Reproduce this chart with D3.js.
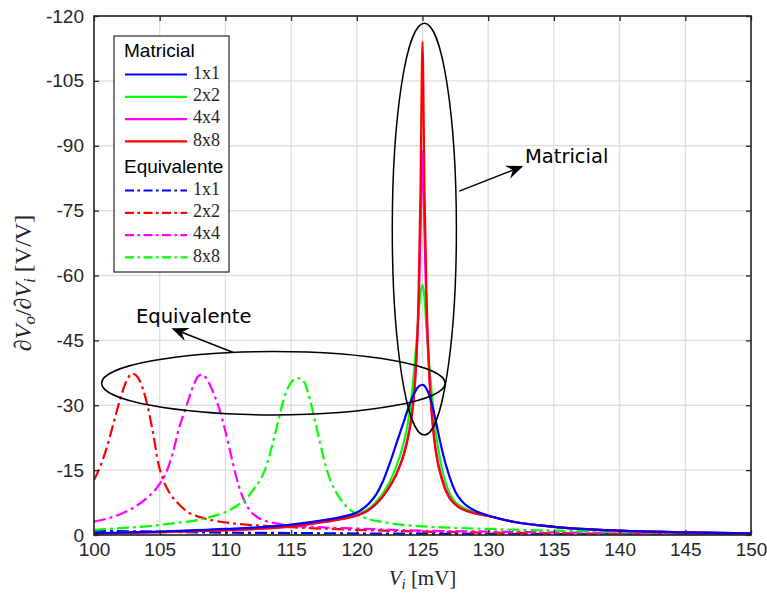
<!DOCTYPE html>
<html>
<head>
<meta charset="utf-8">
<script src="https://cdn.jsdelivr.net/npm/d3@7"></script>
<style>
  body { margin: 0; background: #fff; }
  svg { display: block; }
</style>
</head>
<body>
<svg id="chart" width="767" height="595"></svg>
<script>
// x grid shared by the "Matricial" curves
var xMat = [100, 105, 110, 115, 117, 119, 120, 121, 121.5, 122, 122.5, 123, 123.5, 124, 124.3, 124.5, 124.7, 124.85,
            125, 125.15, 125.3, 125.5, 125.7, 126, 126.5, 127, 127.5, 128, 129, 130, 132, 135, 140, 145, 150];
var mat1x1 = [-0.4, -0.8, -1.4, -2.4, -3.2, -4.3, -5.2, -7.5, -9.5, -12.5, -16.5, -21, -25.5, -30, -32.3, -33.5, -34.3, -34.6,
              -34.7, -34.5, -33.8, -32.5, -30.5, -26.5, -19.5, -14, -10, -7.8, -5.6, -4.5, -3.0, -1.9, -1.0, -0.6, -0.35];
var mat2x2 = [-0.4, -0.7, -1.2, -2.1, -2.9, -4.0, -4.8, -6.3, -7.8, -9.7, -12.3, -15.8, -20.5, -28, -36, -43, -51, -56,
              -57.8, -55, -48, -40, -33, -24, -15, -10, -7.6, -6.5, -5.2, -4.4, -3.0, -1.9, -1.0, -0.6, -0.35];
var mat4x4 = [-0.35, -0.65, -1.1, -2.0, -2.8, -3.8, -4.5, -6, -7.3, -9, -11.2, -14, -18, -24.5, -31, -39, -52, -70,
              -88.8, -70, -52, -38, -28.5, -20, -13, -9, -7.1, -6.1, -5.0, -4.4, -3.0, -1.9, -1.0, -0.6, -0.35];
var mat8x8 = [-0.35, -0.65, -1.1, -2.0, -2.8, -3.8, -4.5, -6, -7.3, -9, -11.2, -14, -17.8, -24, -30.5, -38.5, -55, -80,
              -114, -80, -56, -38, -28, -19.5, -12.5, -8.8, -7.0, -6.0, -5.0, -4.4, -3.0, -1.9, -1.0, -0.6, -0.35];

// "Equivalente" curves, each with its own x grid
var xEq1x1 = [100, 105, 110, 115, 120, 125, 130, 135, 140, 145, 150];
var eq1x1 = [-1.0, -0.75, -0.55, -0.45, -0.35, -0.3, -0.25, -0.2, -0.18, -0.15, -0.12];
var xEq2x2 = [100, 100.5, 101, 101.5, 102, 102.5, 102.9, 103.3, 103.7, 104.1, 104.5, 104.9, 105.3, 105.8, 106.5, 107.3,
              108, 109, 110, 112, 115, 120, 125, 130, 135, 140, 145, 150];
var eq2x2 = [-12.7, -16, -20.5, -26, -31.5, -35.8, -37.3, -36.6, -34, -29.5, -23.5, -16.5, -12.5, -9.5, -7, -5,
             -4.2, -3.4, -2.9, -2.3, -1.8, -1.2, -0.8, -0.55, -0.4, -0.3, -0.25, -0.2];
var xEq4x4 = [100, 101, 102, 103, 104, 105, 105.5, 106, 106.5, 107, 107.5, 107.9, 108.2, 108.6, 109, 109.5, 110, 110.5,
              111, 111.5, 112, 112.5, 113, 114, 115, 117, 120, 125, 130, 135, 140, 145, 150];
var eq4x4 = [-3.1, -3.8, -4.8, -6.3, -8.5, -11.8, -14.5, -19, -25, -29.5, -34, -36.6, -37.1, -36, -33.5, -29.5, -24, -17.5,
             -11.5, -7.5, -5.2, -4.0, -3.3, -2.6, -2.2, -1.8, -1.5, -1.0, -0.8, -0.6, -0.45, -0.35, -0.3];
var xEq8x8 = [100, 102, 104, 106, 108, 109, 110, 111, 111.5, 112, 112.5, 113, 113.5, 114, 114.5, 115, 115.5, 116, 116.5,
              117, 117.5, 118, 118.5, 119, 119.5, 120, 121, 122, 123, 125, 127, 130, 135, 140, 145, 150];
var eq8x8 = [-1.2, -1.6, -2.0, -2.7, -3.5, -4.3, -5.3, -7, -8, -10, -12, -15, -20, -26, -32, -35.3, -36.3, -35.3, -30.5,
             -24, -17.5, -12.5, -9.5, -7.3, -5.8, -4.8, -3.6, -3.0, -2.5, -2.0, -1.7, -1.4, -1.0, -0.7, -0.5, -0.4];

var sizeLabels = ['1x1', '2x2', '4x4', '8x8'];
var xTicks = [100, 105, 110, 115, 120, 125, 130, 135, 140, 145, 150];
var yTicks = [-120, -105, -90, -75, -60, -45, -30, -15, 0];
var yTickLabels = ['-120', '-105', '-90', '-75', '-60', '-45', '-30', '-15', '0'];

// annotations, in data units: ellipses [cx, cy, rx, ry], arrows [x0, y0, x1, y1]
var ellipseEq = [113.65, -35.1, 13.07, 7.33];
var ellipseMat = [125.14, -70.7, 2.44, 47.6];
var arrowMat = [127.8, -79.5, 132.67, -85.3];
var arrowEq = [110.6, -42.2, 105.9, -47.8];
var labelMat = [132.8, -87.2, 'Matricial'];
var labelEq = [103.2, -50.4, 'Equivalente'];

var svg = d3.select('#chart');
var pLeft = 94, pRight = 751, pTop = 16, pBottom = 535;
var axisColor = '#262626';

var x = d3.scaleLinear().domain([100, 150]).range([pLeft, pRight]);
var y = d3.scaleLinear().domain([-120, 0]).range([pTop, pBottom]);

// grid
var grid = svg.append('g');
grid.selectAll('.gx').data(xTicks).enter().append('line')
    .attr('x1', function (d) { return x(d); }).attr('x2', function (d) { return x(d); })
    .attr('y1', pTop).attr('y2', pBottom)
    .attr('stroke', '#dedede').attr('stroke-width', 1.3);
grid.selectAll('.gy').data(yTicks).enter().append('line')
    .attr('y1', function (d) { return y(d); }).attr('y2', function (d) { return y(d); })
    .attr('x1', pLeft).attr('x2', pRight)
    .attr('stroke', '#dedede').attr('stroke-width', 1.3);

svg.append('clipPath').attr('id', 'clip').append('rect')
    .attr('x', pLeft).attr('y', pTop).attr('width', pRight - pLeft).attr('height', pBottom - pTop);

var line = d3.line()
    .x(function (d) { return x(d[0]); })
    .y(function (d) { return y(d[1]); })
    .curve(d3.curveMonotoneX);

function pairs(xs, ys) {
    return xs.map(function (v, i) { return [v, ys[i]]; });
}

var dashDot = '12,4,3,4';
var series = [
    { xs: xEq1x1, ys: eq1x1, color: '#0000ff', dash: dashDot },
    { xs: xEq2x2, ys: eq2x2, color: '#ff0000', dash: dashDot },
    { xs: xEq4x4, ys: eq4x4, color: '#ff00ff', dash: dashDot },
    { xs: xEq8x8, ys: eq8x8, color: '#00ff00', dash: dashDot },
    { xs: xMat, ys: mat2x2, color: '#00ff00', dash: null },
    { xs: xMat, ys: mat4x4, color: '#ff00ff', dash: null },
    { xs: xMat, ys: mat8x8, color: '#ff0000', dash: null },
    { xs: xMat, ys: mat1x1, color: '#0000ff', dash: null }
];

var plot = svg.append('g').attr('clip-path', 'url(#clip)');
plot.selectAll('path').data(series).enter().append('path')
    .attr('d', function (s) { return line(pairs(s.xs, s.ys)); })
    .attr('fill', 'none')
    .attr('stroke', function (s) { return s.color; })
    .attr('stroke-width', 2.2)
    .attr('stroke-dasharray', function (s) { return s.dash; });

// axes with inward ticks
function styleAxis(g) {
    g.select('.domain').remove();
    g.selectAll('.tick line').attr('stroke', axisColor).attr('stroke-width', 1.3);
    g.selectAll('.tick text').attr('fill', axisColor)
        .style('font-family', '"Liberation Sans", Arial, sans-serif').style('font-size', '19px');
}
svg.append('g').attr('transform', 'translate(0,' + pBottom + ')')
    .call(d3.axisBottom(x).tickValues(xTicks).tickSize(-5).tickPadding(8).tickFormat(d3.format('d')))
    .call(styleAxis);
svg.append('g').attr('transform', 'translate(0,' + pTop + ')')
    .call(d3.axisTop(x).tickValues(xTicks).tickSize(-5).tickFormat(''))
    .call(styleAxis);
svg.append('g').attr('transform', 'translate(' + pLeft + ',0)')
    .call(d3.axisLeft(y).tickValues(yTicks).tickSize(-5).tickPadding(10)
        .tickFormat(function (d, i) { return yTickLabels[i]; }))
    .call(styleAxis);
svg.append('g').attr('transform', 'translate(' + pRight + ',0)')
    .call(d3.axisRight(y).tickValues(yTicks).tickSize(-5).tickFormat(''))
    .call(styleAxis);

svg.append('rect')
    .attr('x', pLeft).attr('y', pTop).attr('width', pRight - pLeft).attr('height', pBottom - pTop)
    .attr('fill', 'none').attr('stroke', axisColor).attr('stroke-width', 1.6);

// axis labels (LaTeX style)
var serif = '"Liberation Serif", "DejaVu Serif", serif';
var xl = svg.append('text')
    .attr('x', (pLeft + pRight) / 2).attr('y', 585)
    .attr('text-anchor', 'middle')
    .style('font-family', serif).style('font-size', '21px').attr('fill', axisColor);
xl.append('tspan').style('font-style', 'italic').text('V');
xl.append('tspan').style('font-style', 'italic').style('font-size', '15px').attr('dy', 4).text('i');
xl.append('tspan').attr('dy', -4).text(' [mV]');

var yl = svg.append('text')
    .attr('transform', 'translate(31,283) rotate(-90)')
    .attr('text-anchor', 'middle')
    .style('font-family', serif).style('font-size', '24px').attr('fill', axisColor);
yl.append('tspan').style('font-style', 'italic').text('\u2202V');
yl.append('tspan').style('font-style', 'italic').style('font-size', '17px').attr('dy', 4).text('o');
yl.append('tspan').attr('dy', -4).text('/');
yl.append('tspan').style('font-style', 'italic').text('\u2202V');
yl.append('tspan').style('font-style', 'italic').style('font-size', '17px').attr('dy', 4).text('i');
yl.append('tspan').attr('dy', -4).text(' [V/V]');

// annotations
var ann = svg.append('g');
[ellipseEq, ellipseMat].forEach(function (e) {
    ann.append('ellipse')
        .attr('cx', x(e[0])).attr('cy', y(e[1]))
        .attr('rx', x(e[0] + e[2]) - x(e[0])).attr('ry', y(e[1]) - y(e[1] - e[3]))
        .attr('fill', 'none').attr('stroke', '#000').attr('stroke-width', 1.5);
});

function arrow(a) {
    var x0 = x(a[0]), y0 = y(a[1]), x1 = x(a[2]), y1 = y(a[3]);
    var ang = Math.atan2(y1 - y0, x1 - x0);
    var len = 17, hw = 7, notch = 11;
    var ux = Math.cos(ang), uy = Math.sin(ang);
    var bx = x1 - ux * len, by = y1 - uy * len;
    var nx = x1 - ux * notch, ny = y1 - uy * notch;
    ann.append('line')
        .attr('x1', x0).attr('y1', y0).attr('x2', nx).attr('y2', ny)
        .attr('stroke', '#000').attr('stroke-width', 1.5);
    ann.append('path')
        .attr('d', 'M' + x1 + ',' + y1 +
            'L' + (bx - uy * hw) + ',' + (by + ux * hw) +
            'L' + nx + ',' + ny +
            'L' + (bx + uy * hw) + ',' + (by - ux * hw) + 'Z')
        .attr('fill', '#000');
}
arrow(arrowMat);
arrow(arrowEq);

[labelMat, labelEq].forEach(function (l) {
    ann.append('text')
        .attr('x', x(l[0])).attr('y', y(l[1]))
        .attr('dominant-baseline', 'middle')
        .style('font-family', '"DejaVu Sans", sans-serif').style('font-size', '19.5px')
        .attr('fill', '#000').text(l[2]);
});

// legend
var lg = svg.append('g');
lg.append('rect').attr('x', 114).attr('y', 36).attr('width', 115).attr('height', 236)
    .attr('fill', '#fff').attr('stroke', axisColor).attr('stroke-width', 1.2);

var legendGroups = [
    { title: 'Matricial', y0: 52, colors: ['#0000ff', '#00ff00', '#ff00ff', '#ff0000'], dash: null },
    { title: 'Equivalente', y0: 168, colors: ['#0000ff', '#ff0000', '#ff00ff', '#00ff00'], dash: '9,3.5,2.5,3.5' }
];
var rowGap = 22.3;
legendGroups.forEach(function (g) {
    lg.append('text').attr('x', 124).attr('y', g.y0)
        .attr('dominant-baseline', 'middle')
        .style('font-family', '"Liberation Sans", Arial, sans-serif').style('font-size', '19px')
        .attr('fill', '#000').text(g.title);
    sizeLabels.forEach(function (lab, i) {
        var yy = g.y0 + 22.5 + i * rowGap;
        lg.append('line').attr('x1', 125).attr('x2', 187).attr('y1', yy).attr('y2', yy)
            .attr('stroke', g.colors[i]).attr('stroke-width', 2.2)
            .attr('stroke-dasharray', g.dash);
        lg.append('text').attr('x', 193).attr('y', yy)
            .attr('dominant-baseline', 'middle')
            .style('font-family', serif).style('font-size', '18px')
            .attr('fill', axisColor).text(lab);
    });
});
</script>
</body>
</html>
